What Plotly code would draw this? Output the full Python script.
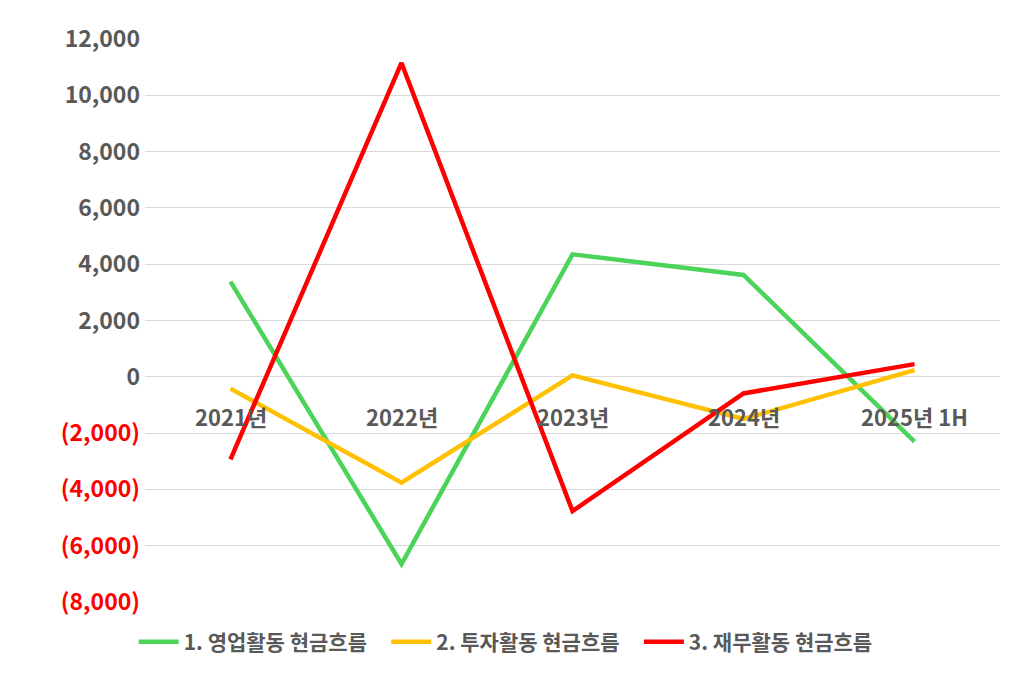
import plotly.graph_objects as go

categories = ["2021년", "2022년", "2023년", "2024년", "2025년 1H"]
op_cf = [3380, -6650, 4350, 3620, -2300]
inv_cf = [-420, -3760, 50, -1500, 240]
fin_cf = [-2930, 11150, -4770, -590, 450]
names = ["1. 영업활동 현금흐름", "2. 투자활동 현금흐름", "3. 재무활동 현금흐름"]
colors = ["#4cd45a", "#ffc000", "#ff0000"]
yticks = list(range(-8000, 12001, 2000))

def fmt(v):
    if v < 0:
        return f'<span style="color:#ff0000">({-v:,})</span>'
    return f"{v:,}"

fig = go.Figure()
for n, c, s in zip(names, colors, [op_cf, inv_cf, fin_cf]):
    fig.add_trace(go.Scatter(x=categories, y=s, name=n + "   ", mode="lines",
                             line=dict(color=c, width=4.5)))

for cat in categories:
    fig.add_annotation(x=cat, y=-1400, text=cat, showarrow=False, xref="x", yref="y",
                       font=dict(size=22, color="#595959", family="Noto Sans CJK KR", weight="bold"))

fig.update_layout(
    width=1008, height=669, paper_bgcolor="white", plot_bgcolor="white",
    margin=dict(l=137, r=16, t=20, b=75),
    font=dict(family="Noto Sans CJK KR", size=20, color="#595959"),
    xaxis=dict(showticklabels=False, showgrid=False, range=[-0.5, 4.5], zeroline=False),
    yaxis=dict(range=[-8000, 12000], tickvals=yticks, ticktext=[fmt(v) for v in yticks],
               gridcolor="#d9d9d9", gridwidth=1, zeroline=False, ticks="", ticklabelstandoff=4,
               tickfont=dict(size=23, color="#595959", weight="bold")),
    legend=dict(orientation="h", x=0.43, xanchor="center", y=-0.035, yanchor="top",
                itemwidth=40, font=dict(size=21, color="#595959", weight="bold")),
)
fig.write_html("out.html")
